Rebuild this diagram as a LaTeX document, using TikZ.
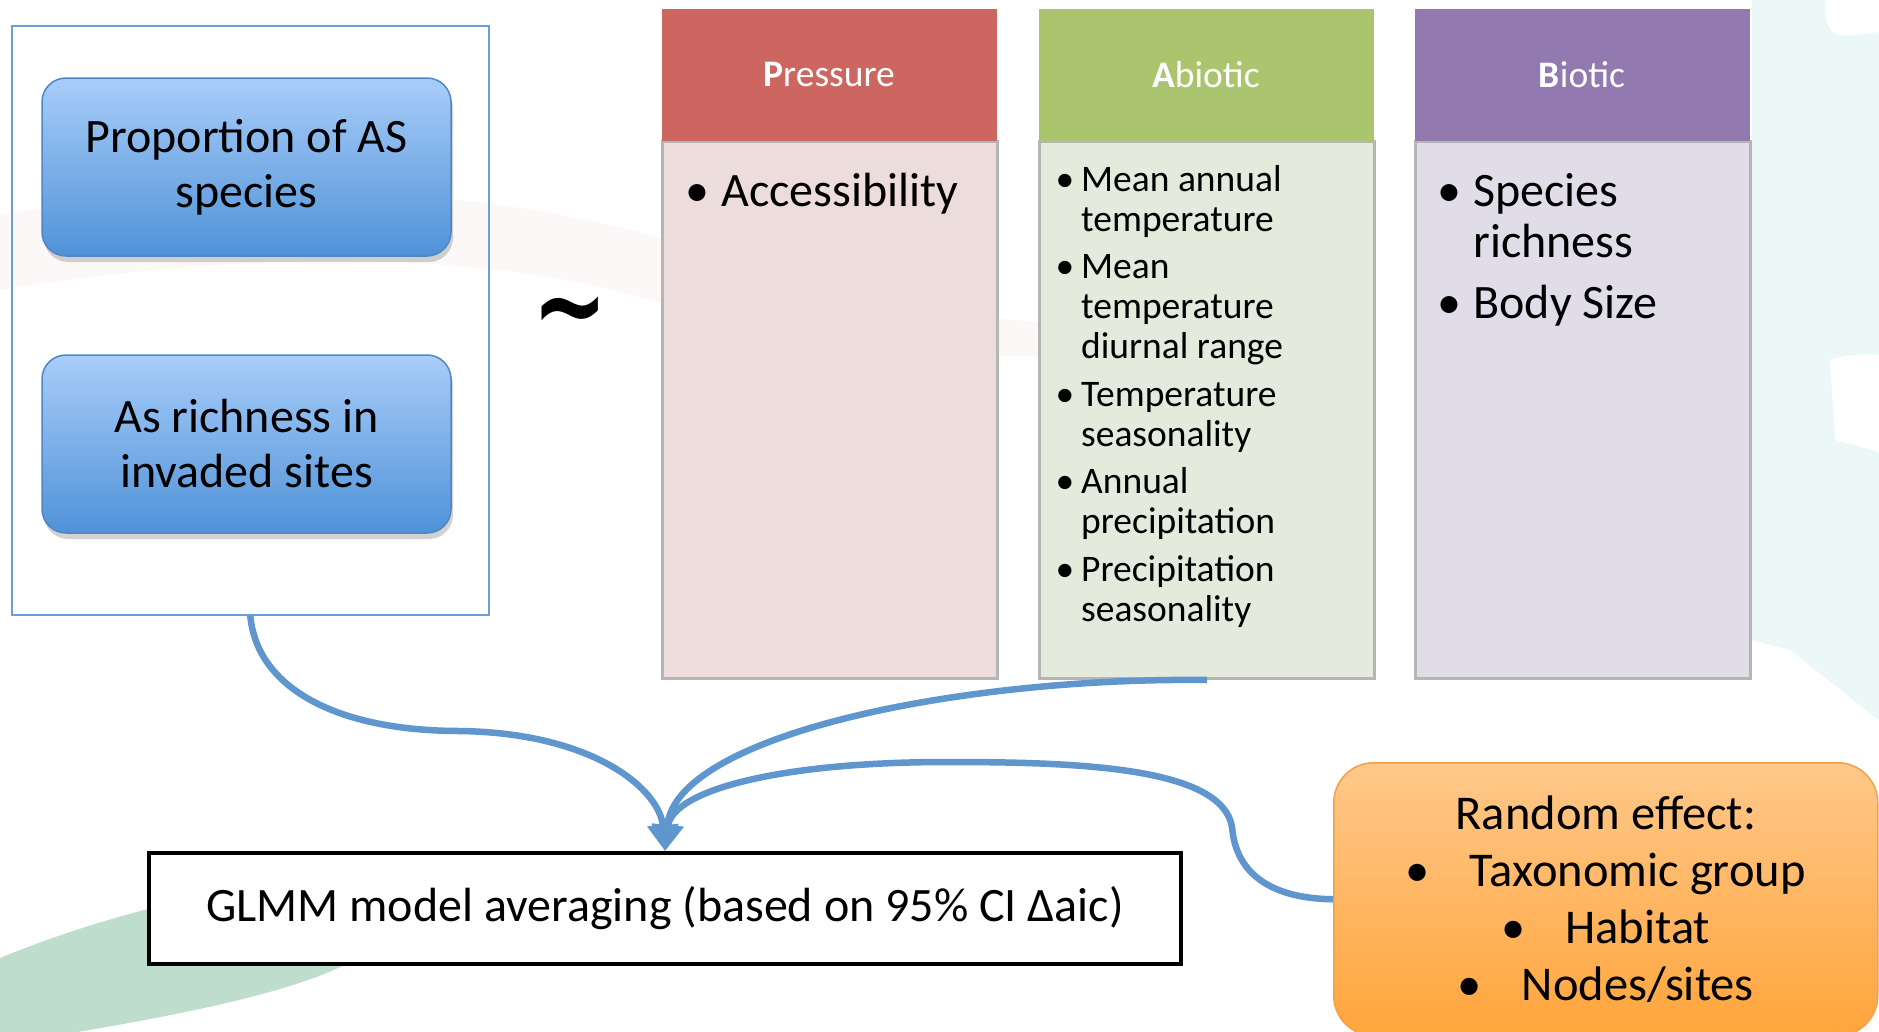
\documentclass[tikz,border=0pt]{standalone}
\usepackage{fontspec}
\setmainfont{Carlito}
\newfontfamily\symfont{DejaVu Sans}
\usetikzlibrary{positioning,arrows.meta,shadows}

\definecolor{boxtop}{RGB}{168,205,249}
\definecolor{boxbot}{RGB}{80,146,216}
\definecolor{boxframe}{RGB}{79,134,198}
\definecolor{outerblue}{RGB}{108,159,217}
\definecolor{phead}{RGB}{205,102,96}
\definecolor{pbody}{RGB}{237,220,220}
\definecolor{ahead}{RGB}{170,197,110}
\definecolor{abody}{RGB}{228,234,220}
\definecolor{bhead}{RGB}{146,121,175}
\definecolor{bbody}{RGB}{224,221,232}
\definecolor{colframe}{RGB}{181,181,181}
\definecolor{linkblue}{RGB}{94,150,205}
\definecolor{orangetop}{RGB}{255,200,138}
\definecolor{orangebot}{RGB}{255,165,60}
\definecolor{orangeframe}{RGB}{244,160,74}
\definecolor{leafgreen}{RGB}{190,221,205}
\definecolor{paleblue}{RGB}{236,247,248}
\definecolor{palepink}{RGB}{248,238,236}

\tikzset{every picture/.style={line width=1pt}}
\tikzset{
  respbox/.style={draw=boxframe, line width=1.5pt, rounded corners=24pt,
    top color=boxtop, bottom color=boxbot, minimum width=409pt, minimum height=178pt,
    align=center, font=\fontsize{48}{55}\selectfont,
    drop shadow={shadow xshift=2pt, shadow yshift=-6pt, opacity=0.35}},
  colhead/.style={anchor=north west, minimum width=335pt, minimum height=132pt,
    inner sep=0pt, text=white, font=\fontsize{37.5}{40}\selectfont},
  colbody/.style={anchor=north west, draw=colframe, line width=3pt,
    minimum width=335pt, minimum height=537pt},
  coltext/.style={anchor=base west, inner sep=0pt},
  link/.style={draw=linkblue, line width=6.5pt, -{Triangle[length=26pt,width=30pt]}},
}

\begin{document}
\begin{tikzpicture}[x=1pt,y=1pt,yscale=-1,xscale=1]
        % background
        \fill[white] (0,0) rectangle (1879,1031);
        \useasboundingbox (0,0) rectangle (1879,1031);
        \fill[palepink, opacity=0.4] (0,215) .. controls (250,170) and (520,190) .. (700,250) .. controls (850,300) and (1000,330) .. (1100,320) -- (1100,350) .. controls (950,370) and (800,340) .. (650,300) .. controls (480,250) and (250,250) .. (0,290) -- cycle;
        \fill[paleblue] (1752,0) -- (1825,0) .. controls (1825,30) and (1830,36) .. (1850,36) -- (1879,32) -- (1879,720) -- (1790,650) -- (1752,640) -- cycle;
        \fill[white] (1830,360) .. controls (1850,352) and (1879,355) .. (1879,355) -- (1879,452) -- (1835,440) -- cycle;
        \fill[leafgreen] (0,958) .. controls (80,925) and (250,868) .. (420,880) .. controls (450,900) and (400,940) .. (350,962) .. controls (280,1000) and (120,1025) .. (0,1045) -- cycle;

        % left side: responses
        \node[draw=outerblue, line width=1.5pt, minimum width=477pt, minimum height=589pt, anchor=north west] (resp) at (11,25) {};
        \node[respbox] (prop) at (246.5,167) {Proportion of AS\\species};
        \node[respbox] (rich) at (246.5,444) {As richness in\\invaded sites};

        % tilde
        \node[inner sep=0pt, anchor=base] (tilde) at (570,345) {\scalebox{1}[1.3]{\fontsize{90}{90}\symfont\bfseries ∼}};

        % Pressure column
        \node[colbody, fill=pbody] (pbody) at (661,140) {};
        \node[colhead, fill=phead] (phead) at (661,8) {\textbf{P}ressure};
        \node[coltext] (ptext) at (685,206) {\fontsize{48}{51}\selectfont
          \begin{tabular}[t]{@{}l@{\hspace{12pt}}l@{}}
          \textbullet & Accessibility
          \end{tabular}};

        % Abiotic column
        \node[colbody, fill=abody] (abio) at (1038,140) {};
        \node[colhead, fill=ahead] (ahead) at (1038,8) {\textbf{A}biotic};
        \node[coltext] (atext) at (1055,191) {\fontsize{37.5}{40}\selectfont
          \begin{tabular}[t]{@{}l@{\hspace{7pt}}l@{}}
          \textbullet & Mean annual\\
                      & temperature\\[7.5pt]
          \textbullet & Mean\\
                      & temperature\\
                      & diurnal range\\[7.5pt]
          \textbullet & Temperature\\
                      & seasonality\\[7.5pt]
          \textbullet & Annual\\
                      & precipitation\\[7.5pt]
          \textbullet & Precipitation\\
                      & seasonality
          \end{tabular}};

        % Biotic column
        \node[colbody, fill=bbody] (bbody) at (1414,140) {};
        \node[colhead, fill=bhead] (bhead) at (1414,8) {\textbf{B}iotic};
        \node[coltext] (btext) at (1437,206) {\fontsize{48}{51}\selectfont
          \begin{tabular}[t]{@{}l@{\hspace{12pt}}l@{}}
          \textbullet & Species\\
                      & richness\\[10pt]
          \textbullet & Body Size
          \end{tabular}};

        % model box
        \node[draw=black, line width=4pt, fill=white, minimum width=1032pt, minimum height=111pt, anchor=north west, font=\fontsize{48}{55}\selectfont] (glmm) at (147,851) {GLMM model averaging (based on 95\% CI Δaic)};

        % random effects
        \node[draw=orangeframe, line width=1.5pt, rounded corners=40pt, top color=orangetop, bottom color=orangebot, minimum width=544pt, minimum height=273pt, anchor=north west, align=center, font=\fontsize{48.5}{57}\selectfont] (rand) at (1333,762) {Random effect:\\
          \textbullet\hspace{40pt}Taxonomic group\\
          \textbullet\hspace{40pt}Habitat\\
          \textbullet\hspace{40pt}Nodes/sites};

        % connectors
        \draw[link] (resp.south) .. controls (257,690) and (340,731) .. (460,731) .. controls (595,733) and (660,790) .. (glmm.north);
        \draw[link] (abio.south) .. controls (960,677) and (675,735) .. (glmm.north);
        \draw[link] (rand.west) .. controls (1246,898) and (1234,851) .. (1232,827) .. controls (1222,767) and (1078,762) .. (947,762) .. controls (780,762) and (672,790) .. (glmm.north);

\end{tikzpicture}
\end{document}
